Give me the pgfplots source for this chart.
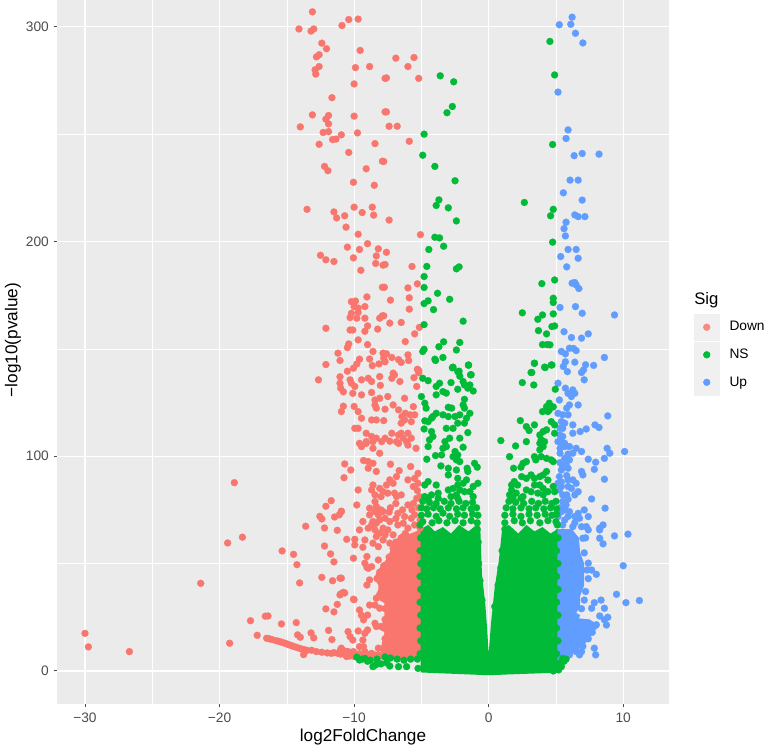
\documentclass[border=0pt]{standalone}
\usepackage{fontspec}
\setmainfont{Liberation Sans}
\usepackage{pgfplots}
\pgfplotsset{compat=1.18}
\definecolor{cDown}{HTML}{F8766D}
\definecolor{cNS}{HTML}{00BA38}
\definecolor{cUp}{HTML}{619CFF}
\definecolor{panel}{HTML}{EBEBEB}
\definecolor{keybg}{HTML}{F0F0F0}
\definecolor{tickc}{HTML}{4D4D4D}
\pgfplotsset{
  dots/.style={only marks,mark=*,mark size=2.65pt,forget plot,color=#1,mark options={solid,fill=#1,draw=#1,line width=0.1pt}},
  core/.style={fill=#1,draw=none,forget plot},
  keyimg/.style={legend image code/.code={
    \fill[keybg] (-9.375pt,-9.75pt) rectangle (9.375pt,9.75pt);
    \fill[#1] (0pt,0pt) circle (2.5pt);}},
}
\begin{document}
\begin{tikzpicture}
\path[use as bounding box] (0,0) rectangle (576pt,560.25pt);
\begin{axis}[
  at={(42.75pt,32.25pt)},anchor=south west,
  scale only axis,width=459pt,height=528pt,
  xmin=-32.08,xmax=13.4,ymin=-15.4,ymax=312.5,
  axis background/.style={fill=panel},
  axis line style={draw=none},
  grid=both,
  major grid style={white,line width=0.85pt},
  minor grid style={white,line width=0.45pt},
  xtick={-30,-20,-10,0,10},xticklabels={−30,−20,−10,0,10},
  ytick={0,100,200,300},yticklabels={0,100,200,300},
  minor xtick={-25,-15,-5,5},minor ytick={50,150,250},
  tick align=outside,tick pos=left,
  major tick length=2.6pt,minor tick length=0pt,
  tick style={tickc,line width=0.7pt},
  tick label style={font=\fontsize{10.3pt}{12pt}\selectfont,text=tickc},
  xticklabel style={yshift=-0.5pt},
  xlabel={log2FoldChange},ylabel={−log10(pvalue)},
  label style={font=\fontsize{12.9pt}{15pt}\selectfont},
  x label style={at={(axis description cs:0.5,-0.047)},anchor=center},
  y label style={at={(axis description cs:-0.072,0.517)},anchor=center},
  legend style={at={(axis description cs:1.0408,0.554)},anchor=north west,
    draw=none,fill=none,inner sep=0pt,outer sep=0pt,row sep=0.75pt,column sep=7.5pt,
    font=\fontsize{10.3pt}{12pt}\selectfont,
    nodes={inner sep=0pt,outer sep=0pt}},
  legend cell align=left,
  clip=true,
]
% ---------- Down
\addplot[core=cDown] coordinates {(-5,66) (-5.8,64) (-6.5,64) (-7,60) (-7.3,56) (-7.6,52) (-8.1,48) (-8.4,45) (-8.4,42) (-8.2,40) (-8.2,38) (-8.4,35) (-7.75,31.5) (-7.75,25.3) (-7.9,22.2) (-7.75,17.5) (-8,11.3) (-7.9,7.5) (-7,5.5) (-5,5)} --cycle;
\addplot[dots=cDown] coordinates {
(-13.1,307) (-14.1,299) (-13.2,298) (-13.0,299) (-10.9,300.6) (-10.4,303.4) (-9.7,303.6) (-12.4,292.4) (-12.05,289.8) (-9.55,289)
(-12.6,287) (-12.8,286) (-12.6,281.5) (-12.9,280) (-12.85,278) (-9.9,281) (-8.85,281.5) (-7.7,276) (-10,273.4) (-11.65,267)
(-13.1,259) (-11.9,258.7) (-12.1,257) (-11.9,254.8) (-14,253.4) (-10,258.4) (-7.7,260.4) (-12.3,250.8) (-11.9,251.2) (-9.75,250.6)
(-11.6,247.5) (-11.35,247.7) (-10.95,249.7) (-12.6,245.3) (-8.45,245.6) (-10.4,241.5) (-7.9,237.4) (-12.2,235) (-11.95,233) (-9.1,233.9)
(-10.05,227.6) (-8.5,226.2) (-13.5,215) (-11.5,213.8) (-11.3,211) (-10.7,212) (-10,216) (-9.4,213.5) (-8.65,216) (-8.55,212.3)
(-10.6,206.7) (-9.7,203.4) (-9,199) (-10.5,197.4) (-9.6,196.3) (-8.2,196.6) (-8.35,193.3) (-8.4,189.8) (-7.85,189) (-12.5,193.6)
(-12.1,191.5) (-11.5,190.7) (-10.05,192.4) (-9.5,186.6) (-7.9,178.7) (-9.05,174.2) (-10.2,172) (-9.9,172.3) (-9.2,169.7) (-10,169.7)
(-9.7,169) (-10.2,166.6) (-9.7,167) (-10.3,164.6) (-9.8,164.3) (-9.2,164.3) (-8.1,164.3) (-7.9,165.4) (-12.1,159.6) (-10.3,158.8)
(-10.1,158.8) (-9,160.7) (-9.2,158.2) (-8.25,159.2) (-9.7,154.2) (-10.4,152.3) (-10.5,150.6) (-9,152) (-11.2,148) (-8.6,148.8)
(-11.05,144.6) (-12.1,142.7) (-9.6,145.2) (-9.8,143) (-8.85,145.3) (-8.65,142.2) (-8.15,143) (-10.05,141) (-10.5,139.6) (-7.85,148)
(-6.9,285.4) (-5.55,285.7) (-6,281.5) (-7.6,276.2) (-5.2,276) (-7.6,260.4) (-7.4,253.7) (-6.8,253.7) (-5.9,246.7) (-7.8,237.3)
(-7.4,210) (-5.07,203.2) (-7.6,195) (-7.7,189.3) (-5.7,188.4) (-7.75,178.7) (-6,178.4) (-5.3,180.3) (-7.3,172.7) (-5.9,173.8)
(-5.9,168.5) (-7.8,165.4) (-7.35,162) (-6.5,162.3) (-5.15,160) (-5.5,157) (-6.2,153.4) (-7.6,147.7) (-7.8,145.7) (-7.7,144)
(-7.2,146) (-6.7,145) (-6.5,143.7) (-6,147.2) (-5.95,144.6) (-5.3,140.5) (-5.2,138.9) (-7.1,138.7)
(-30,17.5) (-29.75,11.2) (-26.7,9) (-21.4,40.8) (-18.9,87.7) (-19.4,59.6) (-18.3,62.3) (-19.25,12.9) (-15.35,55.9) (-14.5,54.3)
(-14.25,49.5) (-14.05,41) (-17.7,23.4) (-16.6,25.5) (-16.4,25.6) (-15.4,21.9) (-14.3,22.5) (-17.2,16.6)
(-16.5,15.2) (-16.3,15) (-16.1,14.6) (-15.8,14.1) (-15.6,13.8) (-15.4,13.4) (-15.2,13) (-15,12.6) (-14.85,12.2) (-14.65,11.8)
(-14.5,11.4) (-14.3,11) (-14.1,10.6) (-13.9,10.2) (-13.7,9.9) (-13.5,9.6) (-13.15,9.6) (-12.8,9) (-12.4,8.7) (-12,8.4)
(-13.75,7.6) (-14.2,16.8) (-14,15.7) (-13.2,17.7) (-13,15.4) (-11.9,18.9) (-11.65,14.6) (-13.6,67.4) (-12.65,135.6)
(-12.55,72) (-12.4,70.8) (-12.1,76.7) (-11.7,79.3) (-11.45,71.7) (-11.1,72.7) (-10.95,74.4) (-12.2,66.6) (-11.25,65.5) (-12.2,58.2)
(-11.75,54.5) (-11.5,50.8) (-12.4,43.6) (-11.6,42) (-11.05,43.2) (-11,35.9) (-10.7,36.3) (-11.25,31) (-12.1,28.9) (-11.5,27.5) (-10,33.2)
(-11.05,137) (-10.3,135.6) (-9.45,135.6) (-8.95,136.3) (-8.7,134.8) (-8.1,137.1) (-7.2,136.3) (-7,137.9) (-6.6,134.8) (-5.55,136.6)
(-5.35,132.5) (-5.2,140) (-8.05,133) (-11,131.7) (-10.8,130) (-11.05,134) (-9.95,132.5) (-10.2,134) (-10.1,129.3) (-9.45,128.6)
(-8.7,129.7) (-8.1,127) (-7.5,127.8) (-6.25,127) (-8.45,126.2) (-8.45,123.9) (-8.35,122.4) (-10,123.2) (-9.7,120.8) (-9.45,117.7)
(-10.8,123.3) (-10.95,120.8) (-7.7,121.9) (-7.1,123.9) (-6.7,121.6) (-6.2,120) (-5.6,123.1) (-5.5,119.3) (-6.45,118.5) (-5.85,119.3)
(-5.75,116.1) (-6.5,115.4) (-6.25,116.9) (-8.7,116.9) (-8.35,116.9) (-7.8,116.6) (-9.95,113) (-9.7,113) (-9.1,110.7) (-8.7,109.2)
(-8.35,108.4) (-7.95,106.8) (-8.6,106.8) (-7.7,108.4) (-7.2,110.7) (-6.7,109.9) (-6.35,108.4) (-6,110.7) (-5.75,108.4) (-6.5,110.7)
(-6.85,106.8) (-6.1,106.8) (-9.1,106.8) (-9.6,106)
(-9.45,104.5) (-9.1,106) (-8.6,103.7) (-8.1,101.4) (-7.35,107) (-6.7,106) (-6,105.2) (-5.4,103.7) (-10.7,96.4) (-10.25,93.6)
(-10.75,90) (-9.3,98) (-8.95,97.5) (-8.6,96.7) (-8.95,94.4) (-8.35,92.9) (-7.3,96.3) (-9.7,84.3) (-9.8,77.3) (-10.95,74.2)
(-6.65,93.3) (-6.85,90.5) (-7.35,89) (-7.1,87.4) (-7.6,86.6) (-5.8,95.2) (-5.25,92) (-5.5,89.7) (-6,89) (-5.25,87.4) (-5.6,85.9)
(-8.6,86.6) (-8.7,84.3) (-8.1,85) (-7.85,83.5) (-8.45,82) (-8,81.2) (-7.5,82.8) (-7,82.8) (-6.5,82) (-6.85,81.2) (-5.1,81.2)
(-5.35,80.4) (-5.6,78) (-6,77.3) (-8.45,78.9) (-8.35,76.6) (-8.85,75.8) (-8,75) (-8.45,74.2) (-8.85,72.7) (-8.2,72.7) (-7.85,74.2)
(-6.75,73.4) (-6.25,71.9) (-5.75,71.1) (-5.5,72.7) (-5.1,70.3) (-7.7,71.1) (-8.6,69.6) (-8.1,70.3) (-8.35,68.8) (-7.35,69.6)
(-9.35,69.6) (-9.6,65.7) (-7.85,66.5) (-8.7,68) (-8.95,66.5) (-8.45,65.7) (-7.5,65.7) (-8.1,64.1) (-7.7,63.4) (-7.1,63.4) (-6.75,68)
(-6.35,68.8) (-6,66.5) (-5.5,68) (-5.1,66.5) (-10.55,61.3) (-9.95,61.3) (-9.2,61) (-9.95,58.7) (-9.35,57.6) (-7.85,61) (-7.35,59.5)
(-8.35,62.6) (-8.6,59.5) (-8.2,57.9) (-10.05,52.5) (-9.2,50.2) (-8.7,48.6) (-8.2,51.7) (-9.05,53.3) (-8.95,47.8)
(-9.05,48.3) (-10.95,43.2) (-8.85,42.4) (-9.05,40) (-10.8,36.6) (-11.05,35.4) (-10.05,33.4) (-8.35,33.9) (-8.1,35.4) (-8.85,30.7)
(-8.45,30.7) (-8.1,29.2) (-9.6,28.4) (-9.45,25.9) (-9.3,23.8) (-9,26) (-8.45,22.2) (-8.35,20.7) (-8,20.7) (-10.45,18.3) (-10.3,16)
(-10.1,14.4) (-9.7,18.6) (-9.2,17.5) (-9.35,14.4) (-9.6,11.3) (-9.3,11.3) (-9,19.1) (-10.95,10.6) (-11.05,9) (-10.45,9) (-10.05,9)
(-10.55,6.7) (-9.7,7.5) (-9.2,9) (-8.7,8.2) (-8.2,10.6)
(-11.7,8.2) (-11.5,8.5) (-11.2,8.2) (-11,7.8) (-10.6,7.2) (-10.3,7) (-10,6.8) (-10.8,9.5) (-11,10) (-10.5,9) (-10.2,8.5) (-9.9,8)
(-9.6,8) (-9.2,7.5) (-8.9,7.5) (-8.5,7.5) (-8.2,7.5) (-7.9,7)
(-8.1,46) (-8.3,43) (-7.8,49) (-7.4,53) (-7.1,57) (-6.9,60) (-7.7,38) (-7.9,34) (-7.7,29) (-7.7,24) (-7.8,20) (-7.7,15) (-7.8,10) (-6.2,64) (-6.5,62)
(-6.9,78) (-7.3,76) (-5.2,76) (-5.7,75) (-6.4,75) (-6.9,71) (-7.4,74) (-5.3,84)
};
% ---------- Up
\addplot[core=cUp] coordinates {(5,3) (5,66) (6.2,66) (6.7,62) (6.8,55) (7.1,50) (7.1,40) (6.8,35) (6.8,30) (6.5,27) (6.8,26) (6.7,24.5) (7.5,24) (8,22) (7.6,16) (7.2,13) (6.4,8.5) (5.4,5.5)} --cycle;
\addplot[dots=cUp] coordinates {
(6.2,304.5) (5.25,301) (6.1,301.2) (6.45,297) (7,292.5) (5.15,269.6) (5.9,252) (5.75,248) (6.35,240) (6.95,241) (8.2,240.7)
(6.05,228.6) (6.65,228.6) (5.55,222.7) (6.95,219.3) (6.4,212.4) (6.65,211.6) (7.15,211.6) (5.75,209) (5.6,206) (5.7,202.6)
(5.9,196.3) (6.5,196.3) (5.35,193) (6.65,192.2) (5.8,188.2) (6.2,180.6) (6.4,180.9) (6.5,179.8) (6.7,178.1) (5.3,169.3) (6.45,169.7)
(6.95,166.6) (9.35,165.8) (5.6,158) (6.15,155.3) (6.9,155) (7.4,157) (5.4,148.8) (5.7,147.7) (6,150.3) (6.3,150.2) (6.5,149.2)
(8.6,146) (5.7,144) (6.4,143.8) (7.2,142.6) (7.8,142.3) (5.55,141.8) (5.85,139.4) (7.05,140.2) (6.9,139)
(5.15,134) (7.1,135.6) (5.7,131.7) (6.25,130.9) (5.9,129.3) (6.4,129.3) (6.15,127.8) (5.25,126.2) (6,123.9) (5.8,122.4) (6.65,123.9)
(5.15,120) (5.5,119.3) (5.9,119.3) (5.4,116.1) (5.65,115.4) (5.3,113) (5.5,113) (8.85,118.8) (6.25,114.6) (6.25,110.7) (6.8,111.5)
(7.25,112.7) (7.9,114.6) (8.2,113.4) (5.3,109.8) (5.5,109.2) (5.15,106.8) (5.4,106.8) (5.65,106) (5.3,103.7) (5.65,104.5) (6,104.5)
(6.5,103.7) (6.9,102.2) (6.25,101.4) (5.3,101.4) (8.8,103.7) (9,101.4) (8.6,99) (10.1,102.2) (7.4,98.6) (7.95,97.2) (7.85,93.9)
(5.65,99) (6,98.3) (5.75,96) (5.5,95.2) (5.4,93.6) (5.9,94.4) (6.9,92.9) (7,91.3) (8.6,89.3) (5.25,90.5) (5.15,87.4) (5.4,85.9)
(5.25,84.3) (5.9,89) (6.25,89) (6.5,87.4) (5.9,85.9) (6.15,85) (6.65,83.5) (6.4,82) (5.8,82) (5.5,82) (7.65,80.1) (8.65,75.8)
(5.5,78.9) (5.75,77.3) (5.65,75) (6,74.2) (5.4,74.2) (5.15,71.9) (7.1,75) (6.65,73.4) (6.4,71.9) (6.75,71.1) (7.4,71.9) (5.65,70.3)
(6.25,67.2) (6.9,67.2) (7.25,67.2) (8.5,68) (8.25,66.5) (7.4,65.7) (8.25,65.7) (9.35,62.9) (10.35,63.7) (8.25,61.8) (8.5,59.2)
(7,61.8) (7.4,50.2) (7.65,47) (8,45) (10,49) (9.5,35.7) (10.2,31.8) (11.2,32.8) (8.35,33) (7.85,31.8) (7.65,29.2) (8.6,29.2)
(8.85,25) (8.6,23.8) (8.75,21.4) (8.25,25.6) (7.4,21.4) (7.85,20.7) (7.85,10.6) (7.95,7.5) (6.75,7.5) (6.9,9)
(7.2,62) (7.1,55) (7.3,47) (7.4,43) (7.2,37) (7.1,33) (6.9,29) (8,21.5) (7.7,18) (7.4,15) (7,11.5) (6.5,9) (6,7.5)
(5.3,76) (5.9,72) (6.4,69) (5.5,68) (5.9,80) (5.4,88) (5.8,91) (5.3,97) (5.9,101)
};
% ---------- NS
\addplot[core=cNS] coordinates {(-5.05,-0.7) (-5.05,66) (-4.5,68) (-4,65) (-3.4,67) (-2.8,64) (-2.2,68) (-1.5,65) (-0.9,68) (-0.62,66) (-0.5,45) (-0.25,31) (-0.12,20) (0,8) (0.17,22) (0.45,39) (0.75,51) (1,66) (1.5,68) (2.2,64) (2.8,68) (3.4,65) (4,67) (4.6,64) (5.1,66) (5.1,-0.7) (4.3,-1) (2,-1.5) (0,-2) (-2,-1.5) (-4,-1)} --cycle;
\addplot[dots=cNS] coordinates {
(-3.6,277.2) (-2.6,274.4) (-2.7,262.9) (-3.1,260) (-4.8,250) (-4.9,240.2) (-4,235) (-2.5,228.3) (-3.7,219.4) (-3.9,216.8) (-3,215.7)
(-2.4,209.6) (-4,202) (-3.65,201.7) (-4.45,196.3) (-3.35,197.8) (-4.6,188.4) (-2.4,187.3) (-2.2,188.2) (-4.8,183.7) (-4.8,178.6)
(-3.8,175.9) (-2.9,173.1) (-4.5,172.4) (-4.8,171.1) (-4.1,168.3) (-1.9,162.9) (-4.8,161.3) (-3.35,153.3) (-3.7,151) (-2.15,153)
(-2.4,149.5) (-4.8,149.8) (-4.9,148.8) (-4,145.2) (-3.4,146) (-1.5,142.4) (-2.7,141.2) (-2.2,139.6) (-1.3,138)
(4.55,293.2) (4.9,277.6) (4.75,245.2) (2.65,218.2) (4.8,215) (4.6,212) (4.75,199.7) (4.9,182.1) (3.95,180.4) (4.8,173.6) (4.8,171.6)
(2.5,166.8) (4.8,166.3) (4,165.8) (3.65,163.8) (4.7,160.4) (4.9,160.7) (3.7,158.5) (4.3,157) (4,152) (4.35,152) (4.55,151.9)
(3.4,143.3) (4.2,141.3) (4.7,142.5) (3.2,139)
(-3.95,144.6) (-2.65,141.5) (-1.5,142.5) (-2.3,139.4) (-2.15,137.3) (-1.35,137.9) (-4.9,136.3) (-4.5,135.2) (-3.65,134) (-3.9,132.5)
(-2.8,134.3) (-1.9,134.8) (-1.8,133.2) (-1.4,133.2) (-2.3,131.2) (-1.55,131.7) (-1.15,130.4) (-3.4,130.1) (-3.15,129.4) (-3.9,128.6)
(-5,127.8) (-4.75,124.7) (-4.65,122.4) (-1.8,126.5) (-1.9,123.9) (-1.8,122.4) (-3,122.8) (-2.75,122.4) (-3.9,120) (-4.15,118.5)
(-4.5,116.1) (-4.75,116.5) (-4.25,117.7) (-3.4,119.3) (-3,118.5) (-2.5,118.5) (-2.15,119.3) (-1.65,117.7) (-1.4,120) (-1.8,115.4)
(-2.3,115.4) (-2.65,113) (-3.15,113) (-4.8,112.7) (-4.25,111.5) (-4.15,109.2) (-4.4,107.6) (-4.5,104.5) (-1.55,111) (-2.15,108.4)
(-2.9,108.4) (-3.25,106.8) (-3.15,104.5) (-3.4,103.7) (-3.5,100.6) (-1.9,104.2) (-2.5,102.2) (-2.3,100.6) (-2.65,99.8) (-2.4,98.3)
(-2.15,97.5) (-3.95,100.3) (-4.6,98.6) (-3.55,95.5) (-3,94.4) (-2.4,93.6) (-3,91.3) (-1.6,94.4) (-1.05,96.7) (-0.85,94.9) (-1.55,92.9)
(-4.5,88.2) (-4.75,86.6) (-3.9,86.6) (-2.3,89.7) (-1.65,89) (-1.9,87.4) (-2.3,86.6) (-2.65,85) (-3,84.3) (-1.15,85.9) (-0.8,87.4)
(-2.15,84.3) (-1.8,83.5) (-1.15,81.2) (-2.4,82) (-1.4,83.5) (-4.25,82) (-3.75,82.8) (-4.75,81.2) (-4.5,80.4) (-3.75,80.4) (-2.3,80.4) (-2.8,81.2)
(3.4,143.3) (4.15,141.5) (4.65,142.5) (3.15,139) (2.5,134.3) (3.35,133.2) (4.95,131.2) (4.5,124.7) (4.3,123.1) (4,120.8) (4.5,121.6)
(4.4,120.8) (4.8,123) (2.35,116.6) (2.8,113.8) (3,112) (3.4,114.6) (4.65,116.1) (4.9,114.6) (4.9,110.7) (4.05,111.5) (4.3,112.3)
(3.8,109.9) (3.9,107.6) (3.8,106) (4.15,106.8) (4.05,104.5) (0.9,107.3) (2,104.8) (2.8,106.8) (1.55,99.8) (1.85,94.4) (3.8,103)
(3.4,99.8) (3.5,98.3) (3.9,99.8) (4.3,99) (4.8,97.5) (4.65,98.3) (2.55,96.7) (2.8,97.5) (2.4,94.9) (4.3,92.9) (4.05,91.3) (3.15,91.3)
(3.4,89.7) (2.8,89.7) (2.45,90.5) (4.4,88.9) (3.8,90.5) (1.9,88.2) (1.7,86.6) (2.15,86.6) (3.8,86.6) (4.05,85) (4.8,85.9) (3.4,86.6)
(4.9,83.5) (1.7,84.3) (2.05,82.8) (1.55,82) (2.55,81.2) (4.05,82) (4.4,83.5) (3.15,83.5) (3.65,82.8) (1.8,80.4) (2.4,80.4) (2.8,84.3)
(-4.9,79) (-4.4,78.5) (-3.9,78) (-3.3,79) (-2.8,78) (-2.2,79) (-1.7,78) (-1.2,78.5)
(-5,76) (-4.6,75.5) (-4.1,76) (-3.6,75.5) (-3,76) (-2.4,75.5) (-1.9,76) (-1.3,75.5) (-0.9,76)
(-5,72.5) (-4.5,73) (-3.9,72) (-3.4,73.5) (-2.9,72) (-2.3,73) (-1.8,72.5) (-1.2,73) (-0.8,72.5)
(-4.9,69.5) (-4.2,69) (-3.7,70) (-3.1,69) (-2.5,70) (-1.9,69) (-1.3,70) (-0.85,69)
(1.5,79) (2,78.5) (2.6,78) (3.2,79) (3.7,78) (4.2,79) (4.7,78) (5,79)
(1.3,76) (1.8,75.5) (2.4,76) (3,75.5) (3.5,76) (4.1,75.5) (4.6,76) (5.05,75.5)
(1.2,72.5) (1.8,73) (2.4,72) (3,73) (3.6,72.5) (4.2,73) (4.7,72.5) (5.05,73)
(1.2,69) (1.9,70) (2.5,69) (3.1,70) (3.8,69) (4.4,70) (5,69.5)
(-0.85,66) (-0.78,60) (-0.75,50) (-0.65,42) (-0.5,33) (1.2,66) (1,56) (0.9,48) (0.7,40) (0.45,30)
(-5.1,68) (-5.05,62) (-5.1,56) (-5.05,50) (-5.1,44) (-5.05,38) (-5.1,32) (-5.05,26) (-5.1,20) (-5.05,14) (-5.1,8)
(5.1,68) (5.15,62) (5.05,56) (5.15,50) (5.05,44) (5.15,38) (5.05,32) (5.15,26) (5.05,20) (5.15,14) (5.05,8)
(-9.8,6.4) (-9.6,5.1) (-9.4,5.5) (-9,4.5) (-8.6,2) (-8.4,2.8) (-8,3.3) (-7.6,3.8) (-7.35,2.3) (-6.7,2) (-6.1,2) (-5.25,1.2)
(-9.2,5.8) (-8.8,5) (-8.3,5.5) (-7.7,6.5) (-7.3,6) (-6.8,5.5) (-6.3,5) (-5.8,5.5) (-5.3,5.5)
(5.2,0.5) (5.4,2) (5.6,4.5) (5.75,5.5) (5.2,3.5) (4.8,0) (5.5,5.8)
};
% ---------- legend
\addlegendimage{keyimg=cDown!85!white}\addlegendentry{Down}
\addlegendimage{keyimg=cNS}\addlegendentry{NS}
\addlegendimage{keyimg=cUp}\addlegendentry{Up}
\end{axis}
\node[anchor=base west,font=\fontsize{12.5pt}{15pt}\selectfont,inner sep=0pt] at (520.5pt,332pt) {Sig};
\end{tikzpicture}
\end{document}
